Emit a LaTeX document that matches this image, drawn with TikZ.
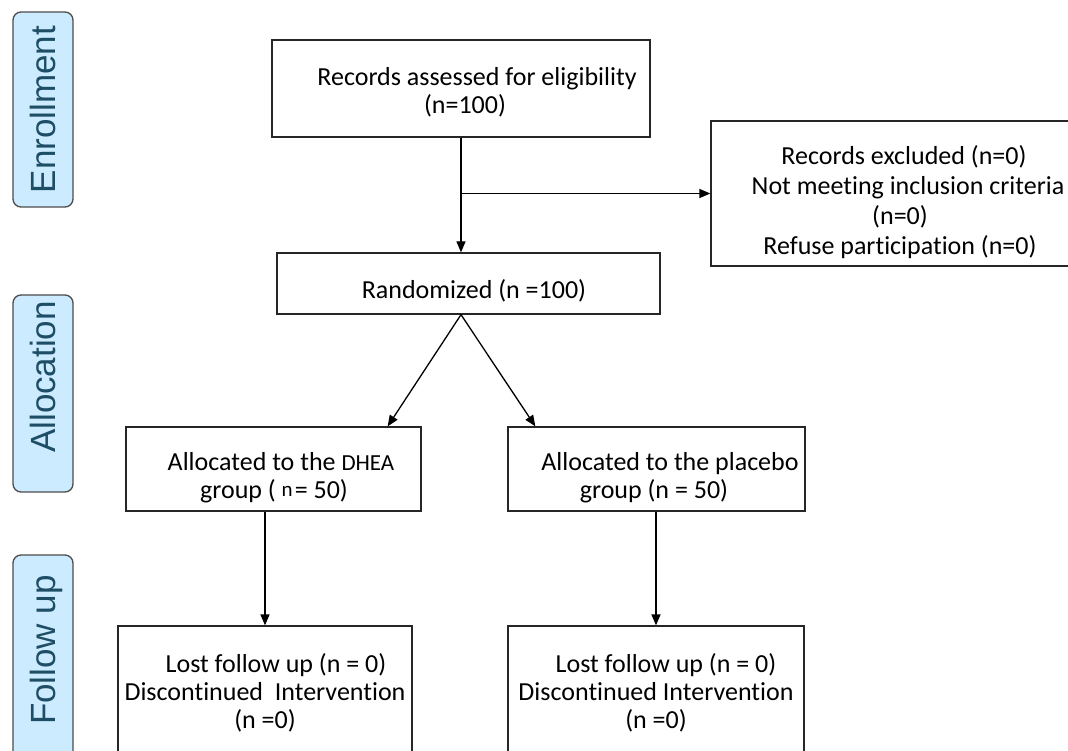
\documentclass[tikz,border=0pt]{standalone}
\usepackage{fontspec}
\setmainfont{Carlito}[RawFeature={-liga;-clig;-calt}]
\newfontfamily\sidefont{Liberation Sans}
\usetikzlibrary{arrows.meta,calc}
\definecolor{sidefill}{HTML}{CDEBFF}
\definecolor{sidetext}{HTML}{1D4E66}
\begin{document}
\begin{tikzpicture}[x=1pt,y=-1pt]
\tikzset{
 box/.style={draw=black!85, line width=1.3pt, inner sep=0pt},
 txt/.style={font=\fontsize{26}{28}\selectfont, align=center, inner sep=0pt, text=black},
 side/.style={draw=black!70, line width=1.3pt, fill=sidefill, rounded corners=8pt, inner sep=0pt, minimum width=60pt},
 sidetxt/.style={font=\sidefont\fontsize{35}{35}\selectfont, text=sidetext, rotate=90, inner sep=0pt, anchor=base},
 arr/.style={-{Triangle[length=11pt,width=9pt]}, line width=1.3pt, black},
}
\useasboundingbox (0,0) rectangle (1068,751);
\fill[white] (0,0) rectangle (1068,751);

% side labels
\node[side, minimum height=195pt] (s1) at (43,109.5) {};
\node[sidetxt] (s1t) at (55,109.5) {Enrollment};
\node[side, minimum height=197pt] (s2) at (43,393.5) {};
\node[sidetxt] (s2t) at (55,377) {Allocation};
\node[side, minimum height=205pt] (s3) at (43,657.5) {};
\node[sidetxt] (s3t) at (55,650) {Follow up};

% boxes
\node[box, minimum width=378pt, minimum height=97pt] (rec) at (461,88.5) {};
\node[box, minimum width=364pt, minimum height=145pt] (exc) at (893,193.5) {};
\node[box, minimum width=383pt, minimum height=61pt] (rand) at (468.5,283.5) {};
\node[box, minimum width=295pt, minimum height=84pt] (dhea) at (273.5,469) {};
\node[box, minimum width=297pt, minimum height=84pt] (plac) at (656.5,469) {};
\node[box, minimum width=294pt, minimum height=134pt] (lost1) at (265,693) {};
\node[box, minimum width=296pt, minimum height=134pt] (lost2) at (656,693) {};

% texts
\node[txt] (trec) at (465,92) {\hspace*{24pt}Records assessed for eligibility\\(n=100)};
\node[txt, font=\fontsize{26}{30}\selectfont] (texc) at (900,202) {\hspace*{8pt}Records excluded (n=0)\\\hspace*{16pt}Not meeting inclusion criteria\\(n=0)\hspace*{20pt}\\Refuse participation (n=0)};
\node[txt] (trand) at (474,291) {Randomized (n =100)};
\node[txt] (tdhea) at (274,478) {\hspace*{14pt}Allocated to the {\fontsize{23}{28}\selectfont DHEA}\\group ( {\fontsize{21}{28}\selectfont\raisebox{2pt}{n}}\hspace{2pt}= 50)};
\node[txt] (tplac) at (654,478) {\hspace*{32pt}Allocated to the placebo\\group (n = 50)};
\node[txt] (tlost1) at (265,693) {\hspace*{22pt}Lost follow up (n = 0)\\Discontinued\ \ Intervention\\(n =0)};
\node[txt] (tlost2) at (656,693) {\hspace*{20pt}Lost follow up (n = 0)\\Discontinued Intervention\\(n =0)};

% connectors
\draw[arr] (rec.south) -- (rec.south |- rand.north);
\draw[arr] (rec.south |- exc.west) -- (exc.west);
\coordinate (rs) at (rec.south |- rand.south);
\draw[arr] (rs) -- ($(dhea.north east)+(-34,0)$);
\draw[arr] (rs) -- ($(plac.north west)+(28,0)$);
\draw[arr] (lost1.north |- dhea.south) -- (lost1.north);
\draw[arr] (lost2.north |- plac.south) -- (lost2.north);
\end{tikzpicture}
\end{document}
